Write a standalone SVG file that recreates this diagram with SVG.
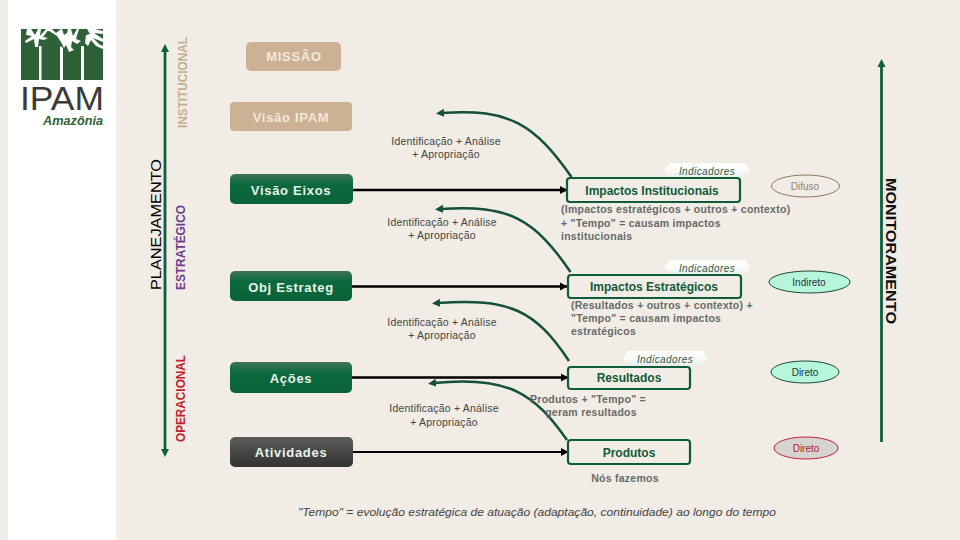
<svg xmlns="http://www.w3.org/2000/svg" width="960" height="540" viewBox="0 0 960 540">
<style>
.s{font-family:"Liberation Sans",Arial,sans-serif}
.nb{font:bold 13px "Liberation Sans",Arial,sans-serif;fill:#e8f3ea;text-anchor:middle;letter-spacing:.7px}
.tan{fill:#f3e8da}
.lab{font:10.5px "Liberation Sans",Arial,sans-serif;fill:#444;text-anchor:middle;letter-spacing:.2px}
.desc{font:bold 10.500px "Liberation Sans",Arial,sans-serif;fill:#666a67;letter-spacing:.26px}
.imp{fill:#f1ece5;stroke:#0f5c3a;stroke-width:2.200}
.impt{font:bold 12px "Liberation Sans",Arial,sans-serif;fill:#12593a;text-anchor:middle}
.ind{fill:url(#wg)}
.indt{font:italic 10px "Liberation Sans",Arial,sans-serif;fill:#2d5a4a;text-anchor:middle;letter-spacing:.4px}
.elt{font:10px "Liberation Sans",Arial,sans-serif;text-anchor:middle}
.vl{font-family:"Liberation Sans",Arial,sans-serif}
.line{stroke:#000;fill:none}
.axis{stroke:#0c6040;stroke-width:2.800;fill:none}
.curve{stroke:#14503a;stroke-width:2.500;fill:none;marker-end:url(#ga)}
</style>
<defs>
<linearGradient id="gg" x1="0" y1="0" x2="0" y2="1"><stop offset="0" stop-color="#3f7458"/><stop offset=".35" stop-color="#0b6a3d"/><stop offset="1" stop-color="#0a6239"/></linearGradient>
<linearGradient id="dg" x1="0" y1="0" x2="0" y2="1"><stop offset="0" stop-color="#5b5b59"/><stop offset="1" stop-color="#333"/></linearGradient>
<linearGradient id="wg" x1="0" y1="0" x2="0" y2="1"><stop offset="0" stop-color="#fff"/><stop offset=".6" stop-color="#f8f8f6"/><stop offset="1" stop-color="#e9ece8"/></linearGradient>
<marker id="ga" markerUnits="userSpaceOnUse" markerWidth="9" markerHeight="9" refX="2" refY="4.500" orient="auto"><path d="M0 .5L8 4.500L0 8.500Z" fill="#14503a"/></marker>
<marker id="ba" markerUnits="userSpaceOnUse" markerWidth="9" markerHeight="9" refX="7" refY="4.500" orient="auto"><path d="M0 .5L7.500 4.500L0 8.500Z" fill="#000"/></marker>
<marker id="va" markerUnits="userSpaceOnUse" markerWidth="9" markerHeight="9" refX="1" refY="4.500" orient="auto"><path d="M0 .5L8 4.500L0 8.500Z" fill="#0c6040"/></marker>
</defs>
<rect width="960" height="540" fill="#f1ece5"/>
<rect x="8" width="108" height="540" fill="#fff"/>

<g id="logo">
<rect x="21" y="29" width="82" height="51" fill="#2f6138"/>
<path d="M39 46h2.500v34h-2.500zM60 46l3 2v32h-3zM81 46h3v34h-3z" fill="#fff"/>
<path d="M27 29h4l4 6 3-6h3l-1 7 6-7h3l-6 8 5 1-4 2-5-1-1 8h-3l-1-8-8 4-1-2 7-5-6-1zM46 29h6l4 4 5-4h1l2 6 3-2 1-4h3l2 7 4-7h2l-3 10 5 2-4 3-5-3-1 6 3 3-5 2-3-7-2 3-3-6-4-6-3-2zM87 29h8l8 2v3l-9-1 9 6v3l-10-4 6 6 4 2v3l-7-3-5-6-3 6-3-3 1-8 4-1z" fill="#fff"/>
<text x="20" y="110" class="s" font-size="32.500" fill="#3a3a38" textLength="84" lengthAdjust="spacingAndGlyphs">IPAM</text>
<text x="43" y="125" class="s" font-size="12" font-weight="bold" font-style="italic" fill="#2f6138" textLength="60" lengthAdjust="spacingAndGlyphs">Amazônia</text>
</g>

<g id="connectors">
<path class="axis" d="M165 300V51" marker-end="url(#va)"/>
<path class="axis" d="M165 300V450" marker-end="url(#va)"/>
<path class="axis" d="M881.500 442V66" marker-end="url(#va)"/>
<path class="line" stroke-width="2.600" d="M353 190H567" marker-end="url(#ba)"/>
<path class="line" stroke-width="2.600" d="M352 286.500H567" marker-end="url(#ba)"/>
<path class="line" stroke-width="2.600" d="M352 377.500H568" marker-end="url(#ba)"/>
<path class="line" stroke-width="2" d="M352 452H568" marker-end="url(#ba)"/>
<path class="curve" d="M571.500 177C535 125 510 108 442 113"/>
<path class="curve" d="M570.500 272C535 220 510 204 441 209"/>
<path class="curve" d="M569 361C535 310 510 298 438 303"/>
<path class="curve" d="M567 440C535 395 510 375 434 383"/>
</g>

<g id="n-label-institucional"><text class="vl" transform="translate(187 128) rotate(-90)" font-size="13" font-weight="bold" fill="#c6ae92" textLength="91" lengthAdjust="spacingAndGlyphs">INSTITUCIONAL</text></g>
<g id="n-label-planejamento"><text class="vl" transform="translate(161 290) rotate(-90)" font-size="15.500" fill="#000" textLength="131" lengthAdjust="spacingAndGlyphs">PLANEJAMENTO</text></g>
<g id="n-label-estrategico"><text class="vl" transform="translate(185 290) rotate(-90)" font-size="12.500" font-weight="bold" fill="#6d3f8e" textLength="85" lengthAdjust="spacingAndGlyphs">ESTRATÉGICO</text></g>
<g id="n-label-operacional"><text class="vl" transform="translate(185 442) rotate(-90)" font-size="12.500" font-weight="bold" fill="#c3202c" textLength="87" lengthAdjust="spacingAndGlyphs">OPERACIONAL</text></g>
<g id="n-label-monitoramento"><text class="vl" transform="translate(885.500 178) rotate(90)" font-size="15.500" font-weight="bold" fill="#111" textLength="146" lengthAdjust="spacingAndGlyphs">MONITORAMENTO</text></g>

<g id="n-missao"><rect x="246" y="42" width="95" height="29" rx="5" fill="#cdb194"/><text x="294" y="61" class="nb tan">MISSÃO</text></g>
<g id="n-visao-ipam"><rect x="230" y="102" width="122" height="29" rx="4" fill="#cdb194"/><text x="291" y="122" class="nb tan">Visão IPAM</text></g>
<g id="n-visao-eixos"><rect x="230" y="174" width="123" height="30" rx="5" fill="url(#gg)"/><text x="291" y="195" class="nb">Visão Eixos</text></g>
<g id="n-obj"><rect x="230" y="271" width="122" height="30" rx="5" fill="url(#gg)"/><text x="291" y="292" class="nb">Obj Estrateg</text></g>
<g id="n-acoes"><rect x="230" y="362" width="122" height="31" rx="5" fill="url(#gg)"/><text x="291" y="383" class="nb">Ações</text></g>
<g id="n-atividades"><rect x="230" y="437" width="123" height="30" rx="5" fill="url(#dg)"/><text x="291" y="457" class="nb">Atividades</text></g>

<g id="l-ident1"><text class="lab" x="446" y="145">Identificação + Análise</text><text class="lab" x="446" y="158">+ Apropriação</text></g>
<g id="l-ident2"><text class="lab" x="442" y="226">Identificação + Análise</text><text class="lab" x="442" y="239">+ Apropriação</text></g>
<g id="l-ident3"><text class="lab" x="442" y="326">Identificação + Análise</text><text class="lab" x="442" y="339">+ Apropriação</text></g>
<g id="l-ident4"><text class="lab" x="444" y="412">Identificação + Análise</text><text class="lab" x="444" y="426">+ Apropriação</text></g>

<g id="n-ind1"><path class="ind" d="M670 163H745L750 170L745 178H670L664 170Z"/><text class="indt" x="707" y="175">Indicadores</text></g>
<g id="n-ind2"><path class="ind" d="M670 260H745L750 267L745 275H670L664 267Z"/><text class="indt" x="707" y="272">Indicadores</text></g>
<g id="n-ind3"><path class="ind" d="M628 351H703L707 358L703 366H628L623 358Z"/><text class="indt" x="665" y="363">Indicadores</text></g>

<g id="n-imp-inst"><rect class="imp" x="567" y="178" width="173" height="24" rx="3"/><text class="impt" x="652" y="195">Impactos Institucionais</text></g>
<g id="n-imp-est"><rect class="imp" x="568" y="275" width="173" height="23" rx="3"/><text class="impt" x="654" y="291">Impactos Estratégicos</text></g>
<g id="n-resultados"><rect class="imp" x="568" y="367" width="122" height="22" rx="3"/><text class="impt" x="629" y="382">Resultados</text></g>
<g id="n-produtos"><rect class="imp" x="568" y="440" width="122" height="24" rx="3"/><text class="impt" x="629" y="457">Produtos</text></g>

<g id="l-desc1"><text class="desc" x="561" y="213">(Impactos estratégicos + outros + contexto)</text><text class="desc" x="561" y="227">+ "Tempo" = causam impactos</text><text class="desc" x="561" y="240">institucionais</text></g>
<g id="l-desc2"><text class="desc" x="571" y="309">(Resultados + outros + contexto) +</text><text class="desc" x="571" y="322">"Tempo" = causam impactos</text><text class="desc" x="571" y="335">estratégicos</text></g>
<g id="l-desc3"><text class="desc" x="588" y="403" text-anchor="middle">Produtos + "Tempo" =</text><text class="desc" x="591" y="416" text-anchor="middle">geram resultados</text></g>
<g id="l-desc4"><text class="desc" x="625" y="482" text-anchor="middle">Nós fazemos</text></g>

<g id="n-difuso"><ellipse cx="805.500" cy="186" rx="34" ry="11" fill="#f1ece5" stroke="#8a7a62"/><text class="elt" x="805" y="190" fill="#8c8474">Difuso</text></g>
<g id="n-indireto"><ellipse cx="809.500" cy="282" rx="40.500" ry="11" fill="#b6f7dc" stroke="#1c4a35"/><text class="elt" x="809" y="286" fill="#234">Indireto</text></g>
<g id="n-direto1"><ellipse cx="805" cy="372" rx="34" ry="11" fill="#b6f7dc" stroke="#1c4a35"/><text class="elt" x="805" y="376" fill="#234">Direto</text></g>
<g id="n-direto2"><ellipse cx="806" cy="448" rx="32" ry="11" fill="#d6d4d1" stroke="#c3202c"/><text class="elt" x="806" y="452" fill="#b3202c">Direto</text></g>

<g id="l-tempo"><text x="537" y="516" class="s" font-size="11.500" font-style="italic" fill="#444" text-anchor="middle" textLength="478" lengthAdjust="spacingAndGlyphs">"Tempo" = evolução estratégica de atuação (adaptação, continuidade) ao longo do tempo</text></g>
</svg>
